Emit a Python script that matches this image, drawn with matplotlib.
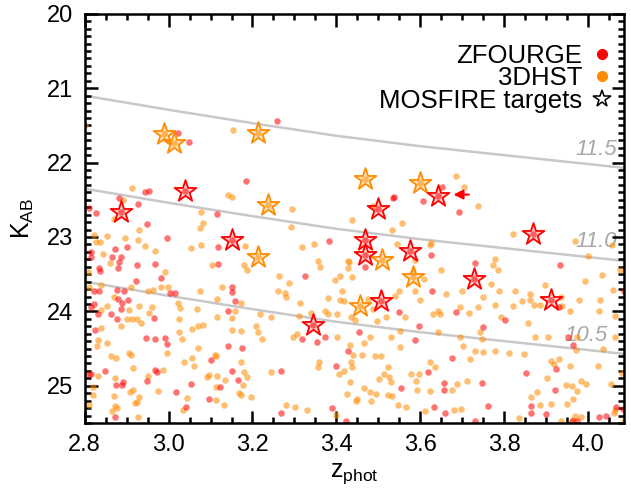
import matplotlib.pyplot as plt
from matplotlib.lines import Line2D
from matplotlib.ticker import MultipleLocator

plt.rcParams['font.family'] = ['Liberation Sans', 'DejaVu Sans']
plt.rcParams['mathtext.fontset'] = 'custom'
plt.rcParams['mathtext.rm'] = 'Liberation Sans'
plt.rcParams['mathtext.it'] = 'Liberation Sans:italic'

# ZFOURGE photometric sample (z_phot, K_AB)
zf_upper = [(3.258, 21.437), (3.022, 21.608), (3.049, 21.729), (3.185, 22.25), (3.652, 22.33),
            (3.606, 22.51), (3.691, 22.67), (2.943, 22.39), (2.954, 22.38), (2.882, 22.475),
            (2.928, 22.56), (2.811, 22.61), (3.535, 22.48), (3.538, 22.46)]
zf_left = [(2.827, 22.677), (2.948, 22.821), (3.116, 22.686), (2.996, 23.014), (3.118, 23.136),
           (2.902, 23.136), (2.872, 23.158), (2.815, 23.203), (2.816, 23.27), (2.866, 23.27),
           (2.886, 23.27), (2.882, 23.338), (2.924, 23.37), (2.967, 23.36), (3.118, 23.36),
           (2.835, 23.414), (2.837, 23.459), (2.880, 23.42), (2.983, 23.554), (2.923, 23.594),
           (2.823, 23.73), (2.835, 23.72), (2.877, 23.71), (2.893, 23.73), (3.004, 23.755),
           (3.016, 23.751), (3.152, 23.666), (3.150, 23.742), (2.880, 23.832), (2.904, 23.845),
           (2.888, 23.89), (2.823, 23.899), (2.815, 23.944), (2.886, 23.967), (3.158, 23.863),
           (3.142, 23.99), (2.831, 24.04), (2.862, 24.034), (2.878, 24.10), (2.965, 24.088),
           (2.825, 24.245), (2.946, 24.358), (2.968, 24.371), (2.992, 24.353), (2.997, 24.439),
           (3.142, 24.461), (3.174, 24.492), (3.102, 24.65), (3.150, 24.798), (3.166, 24.919),
           (2.968, 24.789), (2.973, 24.811), (2.948, 24.932), (2.849, 24.807), (2.811, 24.843),
           (2.816, 24.843), (2.874, 24.99), (2.890, 24.99), (2.892, 24.955), (2.873, 25.413),
           (3.017, 25.09), (3.041, 25.279), (3.054, 24.977), (3.123, 25.013), (3.096, 25.18)]
zf_mid = [(3.468, 23.397), (3.729, 23.352), (3.383, 23.055), (3.624, 23.24), (4.084, 23.72),
          (3.931, 23.945), (3.685, 24.012), (3.550, 24.01), (3.596, 24.19), (3.748, 24.21),
          (3.627, 23.72), (3.932, 23.38), (3.801, 24.12), (3.325, 23.52)]
zf_faint = [(3.318, 24.371), (3.353, 24.416), (3.372, 24.34), (3.454, 24.28), (3.427, 24.53),
            (3.398, 24.73), (3.587, 24.385), (3.676, 24.632), (3.617, 24.82), (3.655, 24.969),
            (3.656, 25.05), (3.747, 24.969), (3.852, 24.834), (3.923, 24.776), (3.921, 25.059),
            (3.964, 24.448), (3.951, 24.34), (3.554, 25.032), (3.268, 24.80),
            (3.267, 25.37), (3.389, 25.30), (3.423, 25.47), (3.632, 25.29), (3.658, 25.36),
            (3.729, 25.47), (3.760, 25.27), (3.863, 25.27), (3.863, 25.37), (3.899, 25.38),
            (3.961, 25.47), (3.973, 25.47), (4.026, 25.42), (4.041, 25.41), (4.065, 25.28),
            (4.082, 25.31)]

# 3D-HST photometric sample
hst_upper = [(2.802, 21.5), (3.153, 21.563), (3.685, 22.18), (3.704, 22.33), (3.736, 22.59),
             (2.912, 22.335), (2.891, 22.50), (3.142, 22.43), (3.152, 22.46), (3.294, 22.63),
             (3.486, 22.59)]
hst_left = [(2.869, 22.754), (3.077, 22.664), (3.083, 22.812), (3.075, 22.875), (2.930, 22.902),
            (2.853, 22.987), (2.823, 22.978), (2.896, 23.01), (2.928, 23.046), (2.827, 23.068),
            (2.837, 23.068), (3.077, 23.113), (3.054, 23.145), (2.944, 23.127), (2.967, 23.19),
            (2.845, 23.225), (2.861, 23.35), (3.181, 23.127), (3.103, 23.37), (3.180, 23.38),
            (3.186, 23.44), (2.808, 23.47), (2.992, 23.473), (2.838, 23.639), (2.811, 23.675),
            (2.911, 23.675), (2.983, 23.675), (2.999, 23.675), (2.964, 23.706), (2.951, 23.72),
            (3.075, 23.729), (3.127, 23.666), (2.870, 23.80), (2.853, 23.922), (2.840, 23.98),
            (2.906, 23.98), (2.930, 23.922), (2.960, 23.944), (3.023, 23.89), (3.027, 23.953),
            (3.069, 23.967), (3.116, 23.832), (3.172, 23.89), (3.158, 23.99), (2.902, 24.10),
            (2.914, 24.10), (2.924, 24.10), (2.954, 24.025), (3.025, 24.10), (3.116, 24.08),
            (3.150, 24.088), (3.217, 24.034), (2.935, 24.156),
            (2.840, 24.227), (2.831, 24.38), (2.829, 24.47), (2.854, 24.425), (2.886, 24.19),
            (3.025, 24.272), (3.033, 24.371), (3.055, 24.236), (3.071, 24.20), (3.081, 24.182),
            (2.997, 24.56), (3.150, 24.245), (3.172, 24.259), (3.209, 24.19), (3.213, 24.281),
            (3.223, 24.371), (3.071, 24.497), (2.862, 24.605), (2.874, 24.632), (2.907, 24.56),
            (2.911, 24.582), (2.916, 24.766), (3.037, 24.686), (3.055, 24.632), (3.061, 24.73),
            (3.111, 24.587), (3.114, 24.605), (3.173, 24.686), (3.180, 24.81), (3.188, 24.888),
            (3.177, 24.99), (2.988, 24.784), (2.951, 24.865), (2.833, 24.865), (2.873, 24.897),
            (2.821, 25.013), (2.821, 25.121), (2.811, 25.26), (2.869, 25.135), (2.873, 25.278),
            (2.877, 25.30), (2.866, 25.337), (2.908, 25.08), (2.916, 25.058), (2.930, 25.144),
            (2.919, 25.233), (2.924, 25.215), (2.928, 25.418), (2.976, 25.067), (3.045, 25.17),
            (3.034, 25.328), (3.091, 24.888), (3.096, 24.852), (3.116, 24.865), (3.112, 25.013),
            (3.134, 24.923), (3.114, 25.19), (3.132, 25.26), (3.169, 25.099), (3.172, 25.121),
            (3.197, 25.148)]
hst_mid = [(3.438, 22.777), (3.557, 22.808), (3.533, 22.912), (3.587, 23.307), (3.582, 23.47),
           (3.346, 23.091), (3.357, 23.316), (3.427, 23.316), (3.429, 23.338), (3.360, 23.397),
           (3.437, 23.54), (3.624, 23.082), (3.648, 23.45), (3.609, 23.563), (3.778, 23.302),
           (3.774, 23.374), (3.820, 22.965), (3.769, 23.63), (3.860, 23.765), (3.841, 23.855),
           (3.871, 23.909), (3.884, 23.909), (3.938, 23.931), (3.934, 23.801), (3.977, 23.846),
           (3.992, 23.594), (4.032, 23.505), (4.058, 23.711), (4.025, 23.99), (3.750, 23.801),
           (3.695, 23.945), (3.737, 23.936), (3.286, 23.621), (3.260, 23.729), (3.379, 23.819),
           (3.414, 23.72), (3.418, 23.864), (3.435, 24.07), (3.245, 24.07), (3.548, 23.72),
           (3.700, 23.72), (3.587, 23.72), (3.661, 23.765), (3.630, 24.04), (3.643, 23.99),
           (3.716, 24.025), (3.791, 24.07), (3.821, 23.93), (3.487, 23.97), (3.518, 24.07),
           (3.496, 24.125), (3.401, 24.035), (3.372, 23.99), (3.340, 24.02), (3.310, 24.06),
           (3.279, 23.81), (3.262, 23.527), (3.409, 23.527), (3.474, 23.83), (3.786, 23.73),
           (3.318, 23.14), (3.292, 22.87), (3.396, 23.58), (3.408, 23.85), (3.277, 23.75),
           (3.427, 23.42), (3.313, 23.89), (3.380, 24.03), (3.444, 24.12), (3.539, 23.79),
           (3.563, 24.08), (3.599, 23.85), (3.647, 24.03), (3.544, 23.10), (3.623, 23.11),
           (3.785, 23.45), (3.825, 23.72), (3.861, 23.85), (3.896, 23.65), (3.968, 23.05),
           (3.999, 23.25), (4.056, 23.11), (4.075, 23.45), (3.777, 23.92), (3.856, 24.15),
           (3.956, 23.99), (4.027, 23.85), (4.063, 24.06)]
hst_faint = [(3.305, 24.30), (3.297, 24.35), (3.401, 24.35), (3.479, 24.35), (3.531, 24.34),
             (3.552, 24.26), (3.643, 24.28), (3.695, 24.34), (3.743, 24.28), (3.747, 24.37),
             (3.873, 24.34), (3.904, 24.34), (3.973, 24.35), (4.064, 24.34), (3.433, 24.45),
             (3.466, 24.43), (3.440, 24.58), (3.461, 24.58), (3.492, 24.596), (3.507, 24.596),
             (3.552, 24.475), (3.702, 24.46), (3.730, 24.53), (3.750, 24.55), (3.778, 24.53),
             (3.812, 24.56), (3.847, 24.57), (3.971, 24.52), (4.034, 24.51), (3.359, 24.686),
             (3.357, 24.753), (3.435, 24.686), (3.438, 24.753), (3.522, 24.744), (3.622, 24.686),
             (3.635, 24.744), (3.717, 24.64), (3.911, 24.663), (3.917, 24.708), (3.930, 24.64),
             (3.956, 24.73), (4.023, 24.73), (3.243, 24.81), (3.405, 24.843), (3.418, 24.80),
             (3.513, 24.843), (3.526, 24.879), (3.596, 24.843), (3.577, 24.843), (3.590, 24.933),
             (3.531, 24.955), (3.502, 24.91), (3.902, 24.90), (4.081, 24.834), (4.053, 24.978),
             (3.687, 24.978), (3.711, 24.942), (3.676, 25.05), (3.622, 25.068), (3.593, 25.059),
             (3.494, 25.104), (3.466, 25.023), (3.433, 24.946), (3.522, 25.126), (3.532, 25.135),
             (3.982, 24.942), (3.995, 24.978), (3.947, 24.987), (3.960, 25.00), (3.973, 25.068),
             (3.425, 25.113), (3.479, 25.09), (3.448, 25.18), (3.863, 25.144), (3.878, 25.09),
             (3.964, 25.18),
             (3.279, 25.26), (3.301, 25.29), (3.329, 25.32), (3.399, 25.39), (3.446, 25.20),
             (3.483, 25.20), (3.547, 25.26), (3.566, 25.29), (3.612, 25.34), (3.680, 25.32),
             (3.696, 25.31), (3.835, 25.43), (3.885, 25.26), (3.910, 25.24), (3.950, 25.24),
             (3.935, 25.47), (3.969, 25.40), (3.964, 25.46), (3.983, 25.42), (4.060, 25.37),
             (4.063, 25.32), (4.084, 25.47)]

# MOSFIRE targets
mos_zf = [(2.886, 22.66), (3.039, 22.38), (3.641, 22.45), (3.498, 22.63), (3.152, 23.037),
          (3.468, 23.037), (3.468, 23.248), (3.574, 23.19), (3.728, 23.563), (3.867, 22.965),
          (3.910, 23.846), (3.505, 23.864), (3.343, 24.183)]
mos_hst = [(2.989, 21.62), (3.013, 21.743), (3.214, 21.608), (3.468, 22.215), (3.600, 22.27),
           (3.236, 22.57), (3.213, 23.27), (3.509, 23.307), (3.583, 23.531), (3.457, 23.922)]

# stellar mass limit tracks, log M* = 10.5 / 11.0 / 11.5
track_z = [2.8, 3.0, 3.2, 3.4, 3.6, 3.8, 4.0, 4.1]
track_105 = [23.60, 23.79, 23.97, 24.14, 24.28, 24.40, 24.52, 24.58]
track_110 = [22.35, 22.54, 22.72, 22.89, 23.03, 23.15, 23.27, 23.33]
track_115 = [21.10, 21.29, 21.47, 21.64, 21.78, 21.90, 22.02, 22.08]
track_names = ['10.5', '11.0', '11.5']

# arrow pointing at one target
arrow_z = [3.722, 3.672]
arrow_k = 22.43

red = '#ff0000'
orange = '#ff8c00'

fig = plt.figure(figsize=(6.31, 4.93), dpi=100)
ax = fig.add_axes([0.134, 0.142, 0.855, 0.830])

label_pos = [(4.046, 24.33), (4.068, 23.06), (4.068, 21.83)]
for trk, name, pos in zip([track_105, track_110, track_115], track_names, label_pos):
    ax.plot(track_z, trk, color='#c8c8c8', lw=1.8, zorder=1)
    ax.text(pos[0], pos[1], name, color='#a8a8a8', fontsize=16, style='italic',
            ha='right', va='center', zorder=1)

zf = zf_upper + zf_left + zf_mid + zf_faint + mos_zf
hst = hst_upper + hst_left + hst_mid + hst_faint + mos_hst
ax.scatter([p[0] for p in hst], [p[1] for p in hst], s=22, color=orange, alpha=0.55,
           lw=0, zorder=2)
ax.scatter([p[0] for p in zf], [p[1] for p in zf], s=22, color=red, alpha=0.55,
           lw=0, zorder=2)

ax.scatter([p[0] for p in mos_hst], [p[1] for p in mos_hst], s=270, marker='*',
           facecolor=(1, 0.55, 0, 0.25), edgecolor=orange, lw=1.3, zorder=3)
ax.scatter([p[0] for p in mos_zf], [p[1] for p in mos_zf], s=270, marker='*',
           facecolor=(1, 0, 0, 0.2), edgecolor=red, lw=1.3, zorder=3)

ax.annotate('', xy=(arrow_z[1], arrow_k), xytext=(arrow_z[0], arrow_k),
            arrowprops=dict(arrowstyle='-|>', color=red, lw=1.5, mutation_scale=14))

ax.set_xlim(2.8, 4.085)
ax.set_ylim(25.5, 20)
ax.xaxis.set_major_locator(MultipleLocator(0.2))
ax.xaxis.set_minor_locator(MultipleLocator(0.05))
ax.yaxis.set_major_locator(MultipleLocator(1))
ax.yaxis.set_minor_locator(MultipleLocator(0.1))
ax.tick_params(which='both', direction='in', top=True, right=True, width=1.8,
               labelsize=17)
ax.tick_params(which='major', length=9, pad=8)
ax.tick_params(which='minor', length=4.5)
for sp in ax.spines.values():
    sp.set_linewidth(1.8)

ax.set_xlabel(r'z$_{\rm phot}$', fontsize=18, labelpad=4)
ax.set_ylabel(r'K$_{\rm AB}$', fontsize=18, labelpad=8)

handles = [Line2D([], [], ls='none', marker='o', color=red, markersize=7),
           Line2D([], [], ls='none', marker='o', color=orange, markersize=7),
           Line2D([], [], ls='none', marker='*', markerfacecolor='none',
                  markeredgecolor='black', markersize=13, markeredgewidth=1.1)]
ax.legend(handles, ['ZFOURGE', '3DHST', 'MOSFIRE targets'], loc='upper right',
          markerfirst=False, frameon=False, fontsize=18.5, handletextpad=0.25,
          labelspacing=-0.05, handlelength=1.0, borderaxespad=0.6,
          bbox_to_anchor=(1.03, 0.99))

fig.savefig('out.png', dpi=100)
plt.close(fig)
